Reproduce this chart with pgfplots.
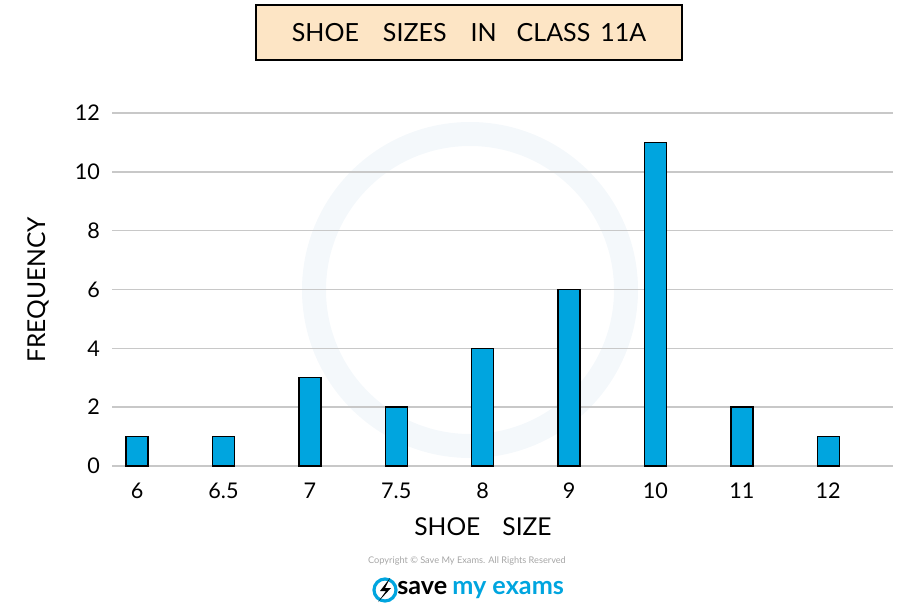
\documentclass[border=0pt]{standalone}
\usepackage{pgfplots}
\pgfplotsset{compat=1.18}
\usepackage{fontspec}
\setmainfont{Lato}
\definecolor{barblue}{RGB}{0,165,223}
\definecolor{peach}{RGB}{253,229,197}
\definecolor{gridgray}{RGB}{200,200,200}
\definecolor{wmark}{RGB}{244,248,251}
\begin{document}
\begin{tikzpicture}
\useasboundingbox (-56pt,-72.5pt) rectangle (393.5pt,233pt);
\draw[wmark, line width=12pt] (179pt,88pt) circle (78pt);
\begin{axis}[
  at={(0pt,0pt)}, anchor=south west,
  scale only axis, width=390.5pt, height=176.5pt,
  xmin=-0.29, xmax=8.75, ymin=0, ymax=12,
  axis line style={draw=none},
  major tick length=0pt,
  ytick={0,2,...,12},
  xtick={0,...,8},
  xticklabels={6,6.5,7,7.5,8,9,10,11,12},
  ymajorgrids,
  grid style={gridgray, line width=0.8pt},
  /pgf/number format/assume math mode=true,
  ticklabel style={font=\fontsize{10.8}{12}\selectfont},
  xticklabel style={yshift=-5pt},
  yticklabel style={xshift=-2.5pt},
  ybar, bar width=11pt,
]
\addplot[ybar, fill=barblue, draw=black, line width=0.7pt]
  coordinates {(0,1) (1,1) (2,3) (3,2) (4,4) (5,6) (6,11) (7,2) (8,1)};
\end{axis}
\node[draw=black, line width=1pt, fill=peach, minimum width=213pt, minimum height=27.5pt, inner sep=0pt]
  at (178.5pt,216.75pt) {\fontsize{12.5}{14}\selectfont SHOE\hspace{12pt}SIZES\hspace{12pt}IN\hspace{10pt}CLASS\hspace{5pt}11A};
\node at (185.5pt,-30.5pt) {\fontsize{12.3}{14}\selectfont SHOE\hspace{11pt}SIZE};
\node[rotate=90] at (-37pt,88pt) {\fontsize{12.3}{14}\selectfont FREQUENCY};
\node[text=gray!70] at (177.5pt,-47.5pt) {\fontsize{4.6}{5}\selectfont Copyright \textcopyright{} Save My Exams. All Rights Reserved};
\draw[barblue, line width=1.6pt] (136.5pt,-62pt) circle (5.5pt);
\fill[black] (139pt,-56pt) -- (134pt,-62.5pt) -- (137pt,-62.5pt) -- (133pt,-68pt) -- (139.5pt,-61pt) -- (136.5pt,-61pt) -- cycle;
\node[anchor=west, inner sep=0pt] at (142.5pt,-62pt) {\fontsize{12.6}{14}\selectfont\bfseries save\hspace{2.5pt}\textcolor{barblue}{my exams}};
\end{tikzpicture}
\end{document}
